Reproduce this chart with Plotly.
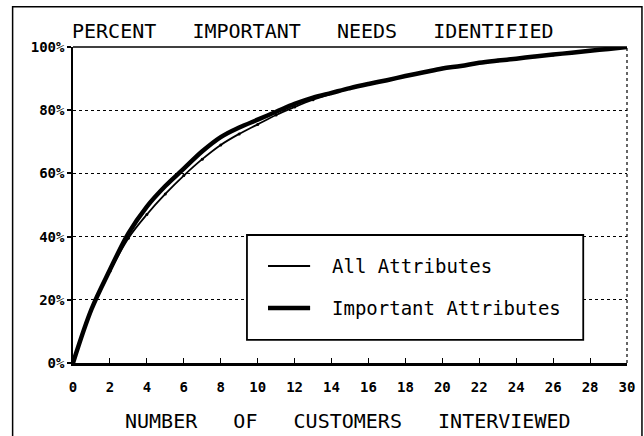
import plotly.graph_objects as go

customers = list(range(0, 31))
important_pct = [0, 17, 29.5, 41, 49.5, 56, 61.5, 67, 71.5, 74.5, 77, 79.5, 82, 84, 85.5, 87,
                 88.3, 89.5, 90.8, 92, 93.2, 94, 95, 95.7, 96.3, 97, 97.6, 98.2, 98.8, 99.4, 100]
all_pct = [0, 17, 29, 39.5, 47, 53.5, 59.3, 64.5, 69, 72.5, 75.5, 78.5, 81, 83.3, 85.2, 86.8,
           88.2, 89.4, 90.7, 91.9, 93.1, 93.9, 94.9, 95.6, 96.2, 96.9, 97.5, 98.1, 98.7, 99.3, 100]
x_ticks = list(range(0, 31, 2))
y_ticks = [0, 20, 40, 60, 80, 100]
series_names = ["All Attributes", "Important Attributes"]
title_text = "PERCENT   IMPORTANT   NEEDS   IDENTIFIED"
x_title = "NUMBER   OF   CUSTOMERS   INTERVIEWED"

FONT = "DejaVu Sans Mono"
W, H = 644, 436
L, T = 73, 47
PW, PH = 554, 316

fig = go.Figure()
fig.add_trace(go.Scatter(x=customers, y=important_pct, mode="lines", name=series_names[1],
                         line=dict(color="black", width=4.5, shape="spline"), showlegend=False))
fig.add_trace(go.Scatter(x=customers, y=all_pct, mode="lines+markers", name=series_names[0],
                         line=dict(color="black", width=1.8, shape="spline"),
                         marker=dict(size=3, color="black"), showlegend=False))

# plot frame: top solid, right dotted
fig.add_shape(type="line", xref="paper", yref="paper", x0=0, x1=1, y0=1, y1=1,
              line=dict(color="black", width=1.5), layer="above")
fig.add_shape(type="line", xref="paper", yref="paper", x0=1, x1=1, y0=0, y1=1,
              line=dict(color="black", width=1.2, dash="dot"), layer="above")
# outer frame
fig.add_shape(type="rect", xref="paper", yref="paper", x0=-0.109, x1=1.027, y0=-0.35, y1=1.127,
              line=dict(color="black", width=1.5), layer="above")

# legend box
fig.add_shape(type="rect", xref="paper", yref="paper", x0=0.314, x1=0.921, y0=0.073, y1=0.405,
              line=dict(color="black", width=1.8), fillcolor="white", layer="above")
fig.add_shape(type="line", xref="paper", yref="paper", x0=0.352, x1=0.428, y0=0.307, y1=0.307,
              line=dict(color="black", width=1.8), layer="above")
fig.add_shape(type="line", xref="paper", yref="paper", x0=0.352, x1=0.428, y0=0.174, y1=0.174,
              line=dict(color="black", width=4.5), layer="above")
fig.add_annotation(xref="paper", yref="paper", x=0.464, y=0.307, text=series_names[0],
                   showarrow=False, xanchor="left", yanchor="middle",
                   font=dict(family=FONT, size=19, color="black"))
fig.add_annotation(xref="paper", yref="paper", x=0.464, y=0.174, text=series_names[1],
                   showarrow=False, xanchor="left", yanchor="middle",
                   font=dict(family=FONT, size=19, color="black"))

fig.add_annotation(xref="paper", yref="paper", x=0.4955, y=-0.1835, text=x_title,
                   showarrow=False, xanchor="center", yanchor="middle",
                   font=dict(family=FONT, size=20, color="black"))

fig.update_layout(
    width=W, height=H,
    margin=dict(l=L, r=W - L - PW, t=T, b=H - T - PH, autoexpand=False),
    paper_bgcolor="white", plot_bgcolor="white",
    title=dict(text=title_text, x=72 / W, xanchor="left", xref="container",
               y=1 - 31 / H, yanchor="middle", yref="container",
               font=dict(family=FONT, size=20, color="black")),
    xaxis=dict(range=[0, 30], tickvals=x_ticks, ticktext=[str(v) for v in x_ticks],
               showgrid=False, zeroline=False, showline=True, linecolor="black", linewidth=2.5,
               ticks="inside", ticklen=5, tickwidth=1, tickcolor="black", ticklabelstandoff=9,
               tickfont=dict(family=FONT, size=14, color="black", weight="bold")),
    yaxis=dict(range=[0, 100], tickvals=y_ticks, ticktext=[f"{v}%" for v in y_ticks],
               showgrid=True, gridcolor="black", griddash="dot", gridwidth=1.3,
               zeroline=False, showline=True, linecolor="black", linewidth=1.5,
               ticks="outside", ticklen=4, tickwidth=1.5, tickcolor="black",
               tickfont=dict(family=FONT, size=14, color="black", weight="bold")),
)

fig.write_html(
    "out.html",
    config={"displayModeBar": False},
    post_script="document.body.style.margin='0';"
                "document.body.style.overflow='hidden';"
                "document.documentElement.style.overflow='hidden';",
)
